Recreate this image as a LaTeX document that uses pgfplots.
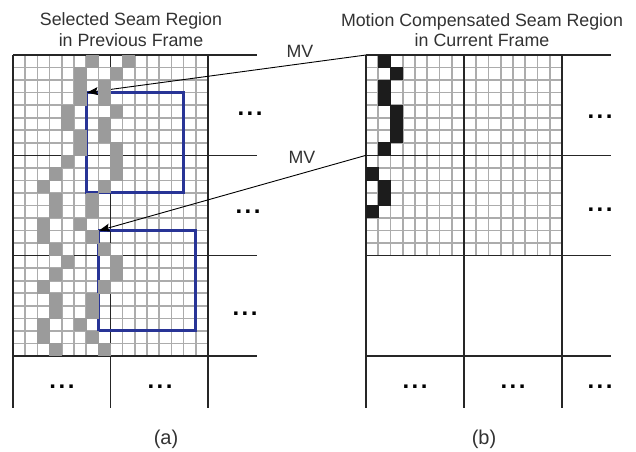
\documentclass[border=0pt]{standalone}
\usepackage{pgfplots}
\pgfplotsset{compat=1.18}
\usepackage{pgfplotstable}
\usepackage{fontspec}
\setmainfont{Liberation Sans}
\usetikzlibrary{arrows.meta}
\definecolor{seamgray}{RGB}{155,155,155}
\definecolor{gridgray}{RGB}{172,172,172}
\definecolor{boxblue}{RGB}{40,52,150}
\definecolor{txt}{RGB}{50,50,50}
\definecolor{cellblack}{RGB}{28,28,28}
\newcommand\tf{\fontsize{17.8bp}{20bp}\selectfont}
\newcommand\lf{\fontsize{20bp}{22bp}\selectfont}
\newcommand\dotsf{\fontsize{24bp}{26bp}\selectfont\bfseries}
\newcommand\ddd{.\hspace{2.5bp}.\hspace{2.5bp}.}

% gray seam cells in the previous frame (row, column)
\pgfplotstableread{
r c
0 6
1 5
2 5
3 5
4 4
5 4
6 5
7 5
8 4
9 3
10 2
11 3
12 3
13 2
14 2
15 3
16 4
17 3
18 2
19 3
20 3
21 2
22 2
23 3
}\seamA
\pgfplotstableread{
r c
0 9
1 8
2 7
3 7
4 8
5 7
6 7
7 8
8 8
9 8
10 7
11 6
12 6
13 5
14 6
15 7
16 8
17 8
18 7
19 6
20 6
21 5
22 6
23 7
}\seamB
% black cells in the current frame (row, column)
\pgfplotstableread{
r c
0 1
1 2
2 1
3 1
4 2
5 2
6 2
7 1
9 0
10 1
11 1
12 0
}\seamC

\begin{document}
\begin{tikzpicture}
\begin{axis}[width=636bp, height=452bp, scale only axis,
  xmin=0, xmax=636, ymin=0, ymax=452, y dir=reverse,
  hide axis, clip=false]

% cells
\addplot[only marks, mark=square*, mark size=6.0, color=seamgray,
  mark options={fill=seamgray, draw=seamgray, line width=0pt, yscale=1.03}]
  table[x expr=13+12.1875*(\thisrow{c}+0.5), y expr=55+12.5417*(\thisrow{r}+0.5)] {\seamA};
\addplot[only marks, mark=square*, mark size=6.0, color=seamgray,
  mark options={fill=seamgray, draw=seamgray, line width=0pt, yscale=1.03}]
  table[x expr=13+12.1875*(\thisrow{c}+0.5), y expr=55+12.5417*(\thisrow{r}+0.5)] {\seamB};
\addplot[only marks, mark=square*, mark size=6.0, color=cellblack,
  mark options={fill=cellblack, draw=cellblack, line width=0pt, yscale=1.03}]
  table[x expr=366+12.25*(\thisrow{c}+0.5), y expr=55+12.5417*(\thisrow{r}+0.5)] {\seamC};

% fine grid, left panel
\pgfplotsinvokeforeach{0,...,16}{
  \draw[gridgray, line width=1.6bp] ({13+#1*12.1875},55) -- ({13+#1*12.1875},356);
}
\pgfplotsinvokeforeach{0,...,24}{
  \draw[gridgray, line width=1.6bp] (13,{55+#1*12.5417}) -- (208,{55+#1*12.5417});
}
% fine grid, right panel
\pgfplotsinvokeforeach{0,...,16}{
  \draw[gridgray, line width=1.6bp] ({366+#1*12.25},55) -- ({366+#1*12.25},255.67);
}
\pgfplotsinvokeforeach{0,...,16}{
  \draw[gridgray, line width=1.6bp] (366,{55+#1*12.5417}) -- (562,{55+#1*12.5417});
}

% block lines
\pgfplotsinvokeforeach{13,110.5,208,366,464,562}{
  \draw[black!85, line width=1.3bp] (#1,55) -- (#1,408);
}
\pgfplotsinvokeforeach{55,155.33,255.67,356}{
  \draw[black!85, line width=1.3bp] (13,#1) -- (257,#1);
  \draw[black!85, line width=1.3bp] (366,#1) -- (611,#1);
}

% blue boxes
\addplot[boxblue, line width=3bp] coordinates {(86.1,92.6) (183.6,92.6) (183.6,192.9) (86.1,192.9) (86.1,92.6)};
\addplot[boxblue, line width=3bp] coordinates {(98.3,230.6) (195.8,230.6) (195.8,330.9) (98.3,330.9) (98.3,230.6)};

% motion vectors
\addplot[black, line width=0.9bp, -{Stealth[length=11bp,width=8bp,inset=2bp]}] coordinates {(366,55) (87,92.6)};
\addplot[black, line width=0.9bp, -{Stealth[length=11bp,width=8bp,inset=2bp]}] coordinates {(366,155.33) (99,230.6)};

% texts
\node[anchor=base, txt, font=\tf] at (131,26) {Selected Seam Region};
\node[anchor=base, txt, font=\tf] at (131,46.5) {in Previous Frame};
\node[anchor=base, txt, font=\tf] at (482,27) {Motion Compensated Seam Region};
\node[anchor=base, txt, font=\tf] at (482,46.5) {in Current Frame};
\node[anchor=base, txt, font=\tf] at (300,58) {MV};
\node[anchor=base, txt, font=\tf] at (302,163) {MV};
\node[anchor=base, txt, font=\lf] at (166,444) {(a)};
\node[anchor=base, txt, font=\lf] at (484,444) {(b)};

% ellipses
\node[anchor=base, black, font=\dotsf] at (250,116) {\ddd};
\node[anchor=base, black, font=\dotsf] at (248,213) {\ddd};
\node[anchor=base, black, font=\dotsf] at (245,315) {\ddd};
\node[anchor=base, black, font=\dotsf] at (62,388) {\ddd};
\node[anchor=base, black, font=\dotsf] at (160,388) {\ddd};
\node[anchor=base, black, font=\dotsf] at (600,119) {\ddd};
\node[anchor=base, black, font=\dotsf] at (600,211) {\ddd};
\node[anchor=base, black, font=\dotsf] at (415,388) {\ddd};
\node[anchor=base, black, font=\dotsf] at (513,388) {\ddd};
\node[anchor=base, black, font=\dotsf] at (600,388) {\ddd};
\end{axis}
\pgfresetboundingbox
\path (current axis.south west) rectangle (current axis.north east);
\end{tikzpicture}
\end{document}
